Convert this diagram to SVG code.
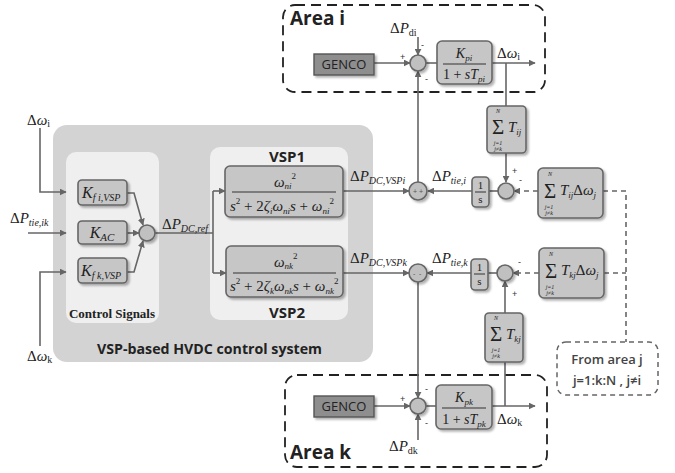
<svg xmlns="http://www.w3.org/2000/svg" width="675" height="473" viewBox="0 0 675 473">
<defs>
<filter id="sh" x="-15%" y="-15%" width="140%" height="140%"><feDropShadow dx="2" dy="2" stdDeviation="1.2" flood-color="#000" flood-opacity="0.3"/></filter>
<marker id="ah" viewBox="0 0 10 10" refX="9" refY="5" markerWidth="7" markerHeight="7" markerUnits="userSpaceOnUse" orient="auto"><path d="M0,0 L10,5 L0,10 z" fill="#666"/></marker>
<style>
.box{fill:#c6c6c6;stroke:#666;stroke-width:1.6;filter:url(#sh)}
.gen{fill:#8e8e8e;stroke:#555;stroke-width:1.4;filter:url(#sh)}
.sum{fill:#c0c0c0;stroke:#666;stroke-width:1.6;filter:url(#sh)}
.ln{stroke:#666;stroke-width:1.6;fill:none}
.arr{marker-end:url(#ah)}
.dash{stroke-dasharray:5 4}
.area{fill:none;stroke:#222;stroke-width:1.8;stroke-dasharray:10 6}
.m{font-family:"Liberation Serif",serif;font-style:italic;fill:#222}
.r{font-family:"Liberation Serif",serif;fill:#222}
.t{font-family:"Open Sans","Liberation Sans",sans-serif;font-weight:700;fill:#222}
.sg{font-family:"Liberation Sans",sans-serif;font-size:9px;fill:#333}
.lim{font-family:"Liberation Serif",serif;font-style:italic;fill:#222;font-size:6px;text-anchor:middle}
.sig{font-family:"Liberation Serif",serif;fill:#222;font-size:21px;text-anchor:middle}
</style>
</defs>

<!-- background panels -->
<g id="hvdc">
<rect x="53" y="125" width="320" height="237" rx="14" fill="#d3d3d3"/>
<text class="t" x="97" y="354" font-size="15" textLength="225" lengthAdjust="spacingAndGlyphs">VSP-based HVDC control system</text>
</g>
<g id="ctrl">
<rect x="66" y="152" width="93" height="171" rx="10" fill="#efefef"/>
<text x="112" y="318" text-anchor="middle" font-family="Liberation Serif,serif" font-weight="700" font-size="13" fill="#222">Control Signals</text>
</g>
<g id="vsp">
<rect x="210" y="147" width="138" height="173" rx="10" fill="#efefef"/>
<text class="t" x="287" y="162" text-anchor="middle" font-size="15">VSP1</text>
<text class="t" x="287" y="318" text-anchor="middle" font-size="15">VSP2</text>
</g>

<g id="areai">
<rect class="area" x="283" y="5" width="262" height="87" rx="12"/>
<text class="t" x="290" y="25" font-size="19">Area i</text>
</g>
<g id="areak">
<rect class="area" x="285" y="375" width="262" height="92" rx="12"/>
<text class="t" x="290" y="459" font-size="19">Area k</text>
</g>
<g id="fromj">
<rect x="557" y="342" width="101" height="53" rx="9" fill="none" stroke="#666" stroke-width="1.5" stroke-dasharray="5 4"/>
<text x="607" y="364" text-anchor="middle" font-family="Open Sans,Liberation Sans,sans-serif" font-weight="600" font-size="13" fill="#444">From area j</text>
<text x="607" y="385" text-anchor="middle" font-family="Open Sans,Liberation Sans,sans-serif" font-weight="600" font-size="13" fill="#444">j=1:k:N , j≠i</text>
</g>

<!-- connectors -->
<g id="connectors">
<path class="ln arr" d="M40,128 V192 H66"/>
<path class="ln arr" d="M28,233 H66"/>
<path class="ln arr" d="M40,346 V272 H66"/>
<path class="ln arr" d="M127,193 H134 L143,225"/>
<path class="ln arr" d="M127,233 H139"/>
<path class="ln arr" d="M127,272 H134 L143,241"/>
<path class="ln" d="M155,233 H213 M213,191 V273"/>
<path class="ln arr" d="M213,191 H225"/>
<path class="ln arr" d="M213,273 H226"/>
<path class="ln arr" d="M343,191 H409"/>
<path class="ln arr" d="M343,273 H409"/>
<!-- area i -->
<path class="ln arr" d="M374,63 H410"/>
<path class="ln arr" d="M418,37 V55"/>
<path class="ln" d="M426,63 H437"/>
<path class="ln arr" d="M492,63 H535"/>
<path class="ln" d="M506,63 V106"/>
<path class="ln arr" d="M506,153 V182"/>
<path class="ln" d="M498,191 H489"/>
<path class="ln arr" d="M472,191 H428"/>
<path class="ln arr" d="M418,182 V71"/>
<path class="ln dash arr" d="M538,191 H514"/>
<path class="ln dash" d="M603,191 H626 V342"/>
<!-- area k -->
<path class="ln arr" d="M374,406 H410"/>
<path class="ln arr" d="M418,440 V414"/>
<path class="ln" d="M426,406 H436"/>
<path class="ln arr" d="M492,406 H535"/>
<path class="ln" d="M505,406 V362"/>
<path class="ln arr" d="M505,313 V281"/>
<path class="ln" d="M497,273 H488"/>
<path class="ln arr" d="M471,273 H427"/>
<path class="ln arr" d="M418,282 V398"/>
<path class="ln dash arr" d="M539,273 H513"/>
<path class="ln dash" d="M604,273 H626"/>
</g>

<!-- nodes -->
<g id="kfi">
<rect class="box" x="78" y="180" width="49" height="25" rx="4"/>
<text class="m" x="82" y="198" font-size="16">K<tspan font-size="10" dy="3">f i,VSP</tspan></text>
</g>
<g id="kac">
<rect class="box" x="78" y="221" width="49" height="23" rx="4"/>
<text class="m" x="102" y="238" font-size="16" text-anchor="middle">K<tspan font-size="11" dy="3">AC</tspan></text>
</g>
<g id="kfk">
<rect class="box" x="78" y="258" width="49" height="25" rx="4"/>
<text class="m" x="81" y="276" font-size="16">K<tspan font-size="10" dy="3">f k,VSP</tspan></text>
</g>
<g id="sumc"><circle class="sum" cx="147" cy="233" r="8"/></g>

<g id="vsp1">
<rect class="box" x="225" y="166" width="118" height="51" rx="5"/>
<text class="m" x="274" y="187" font-size="15">ω<tspan font-size="9" dy="2">ni</tspan><tspan font-size="9" dy="-10" font-style="normal">2</tspan></text>
<line x1="232" y1="192" x2="336" y2="192" stroke="#333" stroke-width="1"/>
<text class="m" x="230" y="211" font-size="15">s<tspan font-size="9" dy="-7" font-style="normal">2</tspan><tspan dy="7" font-style="normal"> + 2</tspan>ζ<tspan font-size="9" dy="3">i</tspan><tspan dy="-3">ω</tspan><tspan font-size="9" dy="3">ni</tspan><tspan dy="-3">s</tspan><tspan font-style="normal"> + </tspan>ω<tspan font-size="9" dy="3">ni</tspan><tspan font-size="9" dy="-10" font-style="normal">2</tspan></text>
</g>
<g id="vsp2">
<rect class="box" x="226" y="246" width="117" height="51" rx="5"/>
<text class="m" x="274" y="267" font-size="15">ω<tspan font-size="9" dy="2">nk</tspan><tspan font-size="9" dy="-10" font-style="normal">2</tspan></text>
<line x1="233" y1="273" x2="336" y2="273" stroke="#333" stroke-width="1"/>
<text class="m" x="230" y="291" font-size="15">s<tspan font-size="9" dy="-7" font-style="normal">2</tspan><tspan dy="7" font-style="normal"> + 2</tspan>ζ<tspan font-size="9" dy="3">k</tspan><tspan dy="-3">ω</tspan><tspan font-size="9" dy="3">nk</tspan><tspan dy="-3">s</tspan><tspan font-style="normal"> + </tspan>ω<tspan font-size="9" dy="3">nk</tspan><tspan font-size="9" dy="-10" font-style="normal">2</tspan></text>
</g>

<g id="genco-i">
<rect class="gen" x="314" y="54" width="60" height="21"/>
<text x="344" y="69" text-anchor="middle" font-family="Open Sans,Liberation Sans,sans-serif" font-size="13" fill="#222">GENCO</text>
</g>
<g id="sum-i">
<circle class="sum" cx="418" cy="63" r="8"/>
<text class="sg" x="400" y="60">+</text>
<text class="sg" x="421" y="48">-</text>
<text class="sg" x="425" y="82">-</text>
</g>
<g id="kpi">
<rect class="box" x="437" y="41" width="55" height="43" rx="5"/>
<text class="m" x="464" y="58" font-size="14" text-anchor="middle">K<tspan font-size="9" dy="3">pi</tspan></text>
<line x1="443" y1="64" x2="486" y2="64" stroke="#333" stroke-width="1"/>
<text class="m" x="464" y="79" font-size="14" text-anchor="middle"><tspan font-style="normal">1 + </tspan>sT<tspan font-size="9" dy="3">pi</tspan></text>
</g>
<g id="tij">
<rect class="box" x="487" y="106" width="39" height="47" rx="4"/>
<text class="lim" x="498" y="113" font-size="7">N</text>
<text class="sig" x="498" y="134">Σ</text>
<text class="lim" x="498" y="144.5">j=1</text>
<text class="lim" x="498" y="151">j≠k</text>
<text class="m" x="508" y="132" font-size="15">T<tspan font-size="9" dy="3">ij</tspan></text>
</g>
<g id="sum-i2">
<circle class="sum" cx="506" cy="191" r="8"/>
<text class="sg" x="512" y="174">+</text>
<text class="sg" x="519" y="183" font-size="12">-</text>
</g>
<g id="int-i">
<rect class="box" x="472" y="177" width="17" height="30" rx="4"/>
<text class="r" x="480.5" y="189" font-size="11" text-anchor="middle">1</text>
<line x1="475" y1="192" x2="486" y2="192" stroke="#333" stroke-width="1"/>
<text class="r" x="480.5" y="203" font-size="11" text-anchor="middle">s</text>
</g>
<g id="junc-i">
<circle class="sum" cx="418" cy="191" r="9"/>
<text x="413" y="194" font-family="Liberation Sans,sans-serif" font-size="7" fill="#555">+</text>
<text x="419" y="194" font-family="Liberation Sans,sans-serif" font-size="7" fill="#555">+</text>
</g>
<g id="stij">
<rect class="box" x="538" y="168" width="65" height="50" rx="5"/>
<text class="lim" x="550" y="176" font-size="7">N</text>
<text class="sig" x="550" y="198">Σ</text>
<text class="lim" x="549" y="208.5">j=1</text>
<text class="lim" x="549" y="215">j≠k</text>
<text class="m" x="560" y="195" font-size="15">T<tspan font-size="9" dy="3">ij</tspan><tspan dy="-3" font-style="normal">Δ</tspan>ω<tspan font-size="9" dy="3">j</tspan></text>
</g>

<g id="junc-k">
<circle class="sum" cx="418" cy="273" r="9"/>
<text x="413" y="276" font-family="Liberation Sans,sans-serif" font-size="7" fill="#555">-</text>
<text x="419" y="276" font-family="Liberation Sans,sans-serif" font-size="7" fill="#555">-</text>
</g>
<g id="int-k">
<rect class="box" x="471" y="259" width="17" height="31" rx="4"/>
<text class="r" x="479.5" y="271" font-size="11" text-anchor="middle">1</text>
<line x1="474" y1="274" x2="485" y2="274" stroke="#333" stroke-width="1"/>
<text class="r" x="479.5" y="285" font-size="11" text-anchor="middle">s</text>
</g>
<g id="sum-k2">
<circle class="sum" cx="505" cy="273" r="8"/>
<text class="sg" x="518" y="265" font-size="12">-</text>
<text class="sg" x="512" y="297">+</text>
</g>
<g id="stkj">
<rect class="box" x="539" y="248" width="65" height="50" rx="5"/>
<text class="lim" x="551" y="256" font-size="7">N</text>
<text class="sig" x="551" y="278">Σ</text>
<text class="lim" x="550" y="288.5">j=1</text>
<text class="lim" x="550" y="295">j≠k</text>
<text class="m" x="561" y="275" font-size="15">T<tspan font-size="9" dy="3">kj</tspan><tspan dy="-3" font-style="normal">Δ</tspan>ω<tspan font-size="9" dy="3">j</tspan></text>
</g>
<g id="tkj">
<rect class="box" x="485" y="313" width="38" height="49" rx="4"/>
<text class="lim" x="496" y="320" font-size="7">N</text>
<text class="sig" x="496" y="341">Σ</text>
<text class="lim" x="496" y="351.5">j=1</text>
<text class="lim" x="496" y="358">j≠k</text>
<text class="m" x="506" y="339" font-size="15">T<tspan font-size="9" dy="3">kj</tspan></text>
</g>

<g id="genco-k">
<rect class="gen" x="314" y="396" width="60" height="21"/>
<text x="344" y="411" text-anchor="middle" font-family="Open Sans,Liberation Sans,sans-serif" font-size="13" fill="#222">GENCO</text>
</g>
<g id="sum-k">
<circle class="sum" cx="418" cy="406" r="8"/>
<text class="sg" x="400" y="402">+</text>
<text class="sg" x="425" y="392">-</text>
<text class="sg" x="425" y="426">-</text>
</g>
<g id="kpk">
<rect class="box" x="436" y="385" width="56" height="44" rx="5"/>
<text class="m" x="464" y="402" font-size="14" text-anchor="middle">K<tspan font-size="9" dy="3">pk</tspan></text>
<line x1="442" y1="408" x2="486" y2="408" stroke="#333" stroke-width="1"/>
<text class="m" x="464" y="424" font-size="14" text-anchor="middle"><tspan font-style="normal">1 + </tspan>sT<tspan font-size="9" dy="3">pk</tspan></text>
</g>

<!-- labels -->
<g id="labels">
<text class="r" x="27" y="125" font-size="15">Δ<tspan font-style="italic">ω</tspan><tspan font-size="10" dy="2">i</tspan></text>
<text class="r" x="10" y="223" font-size="15">Δ<tspan font-style="italic">P</tspan><tspan font-style="italic" font-size="10" dy="3">tie,ik</tspan></text>
<text class="r" x="27" y="361" font-size="15">Δ<tspan font-style="italic">ω</tspan><tspan font-size="10" dy="2">k</tspan></text>
<text class="r" x="162" y="229" font-size="15">Δ<tspan font-style="italic">P</tspan><tspan font-style="italic" font-size="10" dy="3">DC,ref</tspan></text>
<text class="r" x="350" y="181" font-size="15">Δ<tspan font-style="italic">P</tspan><tspan font-style="italic" font-size="10" dy="3">DC,VSPi</tspan></text>
<text class="r" x="350" y="263" font-size="15">Δ<tspan font-style="italic">P</tspan><tspan font-style="italic" font-size="10" dy="3">DC,VSPk</tspan></text>
<text class="r" x="432" y="181" font-size="15">Δ<tspan font-style="italic">P</tspan><tspan font-style="italic" font-size="10" dy="3">tie,i</tspan></text>
<text class="r" x="432" y="263" font-size="15">Δ<tspan font-style="italic">P</tspan><tspan font-style="italic" font-size="10" dy="3">tie,k</tspan></text>
<text class="r" x="390" y="33" font-size="15">Δ<tspan font-style="italic">P</tspan><tspan font-size="10" dy="3">di</tspan></text>
<text class="r" x="389" y="451" font-size="15">Δ<tspan font-style="italic">P</tspan><tspan font-size="10" dy="3">dk</tspan></text>
<text class="r" x="497" y="58" font-size="15">Δ<tspan font-style="italic">ω</tspan><tspan font-size="10" dy="2">i</tspan></text>
<text class="r" x="497" y="424" font-size="15">Δ<tspan font-style="italic">ω</tspan><tspan font-size="10" dy="2">k</tspan></text>
</g>
</svg>
